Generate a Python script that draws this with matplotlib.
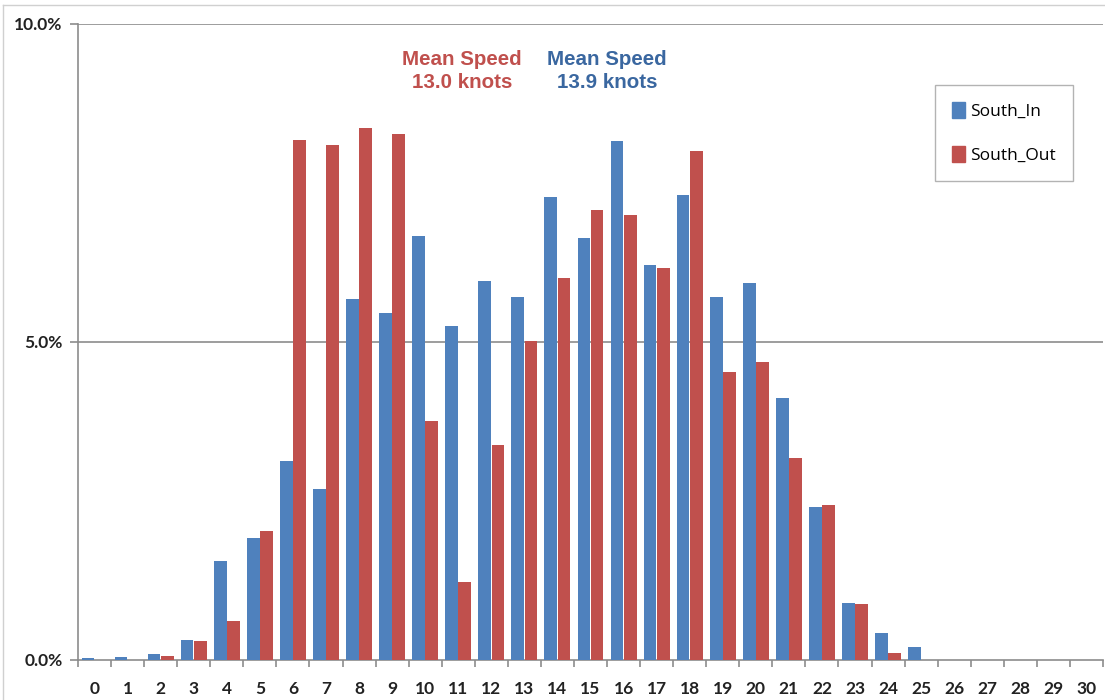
import matplotlib
matplotlib.use("Agg")
import matplotlib.pyplot as plt
import numpy as np
from matplotlib.lines import Line2D
from matplotlib.patches import Patch

speeds = list(range(0, 31))
south_in = [0.03, 0.05, 0.10, 0.31, 1.56, 1.92, 3.13, 2.69, 5.68, 5.46,
            6.67, 5.25, 5.96, 5.71, 7.28, 6.64, 8.16, 6.21, 7.31, 5.71,
            5.93, 4.12, 2.41, 0.90, 0.43, 0.21, 0, 0, 0, 0, 0]
south_out = [0, 0, 0.06, 0.30, 0.62, 2.03, 8.18, 8.10, 8.36, 8.27,
             3.76, 1.23, 3.38, 5.02, 6.01, 7.08, 7.00, 6.16, 8.00, 4.53,
             4.69, 3.18, 2.44, 0.88, 0.11, 0, 0, 0, 0, 0, 0]
y_ticks = [0, 5, 10]
y_labels = ["0.0%", "5.0%", "10.0%"]
series_names = ["South_In", "South_Out"]
mean_out = "Mean Speed\n13.0 knots"
mean_in = "Mean Speed\n13.9 knots"

BLUE = "#4F81BD"
RED = "#C0504D"
GRID = "#8C8C8C"

fig = plt.figure(figsize=(11.05, 7.0), dpi=100)
ax = fig.add_axes([78/1105, 1-660/700, (1103-78)/1105, (660-24)/700])

x = np.arange(len(speeds))
w = 0.385
ax.bar(x - 0.2, south_in, width=w, color=BLUE, label=series_names[0], zorder=3)
ax.bar(x + 0.2, south_out, width=w, color=RED, label=series_names[1], zorder=3)

ax.set_xlim(-0.5, len(speeds) - 0.5)
ax.set_ylim(0, 10)

for s in ["top", "right"]:
    ax.spines[s].set_visible(False)
ax.spines["left"].set_color(GRID)
ax.spines["bottom"].set_color(GRID)
ax.spines["left"].set_linewidth(1.2)
ax.spines["bottom"].set_linewidth(1.2)

ax.set_yticks(y_ticks)
ax.set_yticklabels(y_labels)
for yv in y_ticks[1:]:
    ax.axhline(yv, color=GRID, lw=1.2, zorder=1)
ax.tick_params(axis="y", length=6, color=GRID, width=1.2, pad=5)

ax.set_xticks(x)
ax.set_xticklabels([str(s) for s in speeds])
ax.set_xticks(np.arange(-0.5, len(speeds), 1.0), minor=True)
ax.tick_params(axis="x", which="major", length=0, pad=15)
ax.tick_params(axis="x", which="minor", length=5, color=GRID, width=1.2)

for lab in ax.get_xticklabels() + ax.get_yticklabels():
    lab.set_fontfamily("Lato")
    lab.set_fontweight("bold")
    lab.set_fontsize(12.5)
    lab.set_color("#222222")

fig.text(462/1105, 1-71/700, mean_out, ha="center", va="center",
         color=RED, fontsize=14.8, fontweight="bold", family="Liberation Sans",
         linespacing=1.3)
fig.text(607/1105, 1-71/700, mean_in, ha="center", va="center",
         color="#3A67A0", fontsize=14.8, fontweight="bold", family="Liberation Sans",
         linespacing=1.3)

handles = [Patch(color=BLUE), Patch(color=RED)]
leg = ax.legend(handles, series_names, loc="upper left",
                bbox_to_anchor=((935-78)/1025, 1-(85-24)/636),
                frameon=True, fancybox=False, edgecolor="#A0A0A0",
                prop={"family": "Open Sans", "size": 12.5},
                handlelength=0.7, handleheight=1.0, handletextpad=0.3,
                labelspacing=1.5, borderpad=1.0, borderaxespad=0)
leg.get_frame().set_linewidth(1.0)

# outer chart border (top & left visible)
fig.add_artist(Line2D([3/1105, 3/1105], [0, 1-5/700], transform=fig.transFigure,
                      color="#D0D0D0", lw=1.0))
fig.add_artist(Line2D([3/1105, 1], [1-5/700, 1-5/700], transform=fig.transFigure,
                      color="#D0D0D0", lw=1.0))

fig.savefig("out.png", dpi=100)
